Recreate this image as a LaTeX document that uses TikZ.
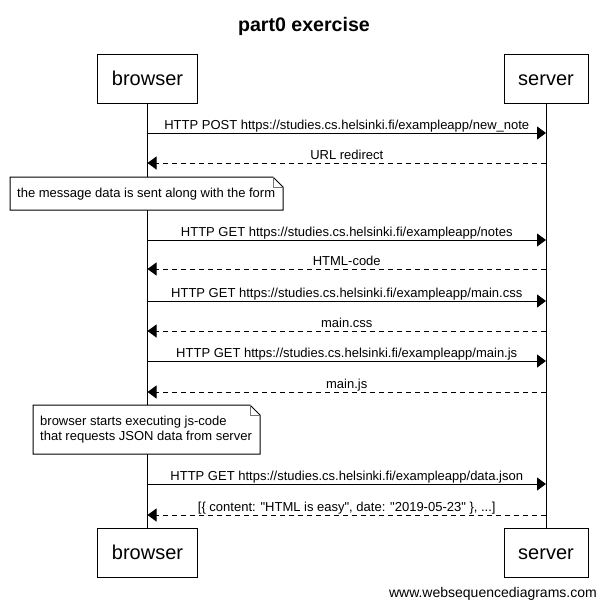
\documentclass[tikz,border=0pt]{standalone}
\usepackage{fontspec}
\setmainfont{Liberation Sans}[Ligatures=TeXOff]
\usetikzlibrary{arrows.meta,calc}
\begin{document}
\begin{tikzpicture}[x=1pt,y=-1pt,
  actor/.style={draw,line width=1pt,fill=white,minimum height=49pt,inner sep=0pt,text height=14.3pt,text depth=0pt,font=\fontsize{20}{24}\selectfont},
  life/.style={line width=1pt},
  req/.style={line width=1pt,-{Triangle[length=9pt,width=13pt]}},
  resp/.style={line width=1pt,dash pattern=on 5.5pt off 3.5pt,-{Triangle[length=9pt,width=13pt]}},
  lbl/.style={anchor=base,inner sep=0pt,font=\fontsize{13}{15}\selectfont},
  notebox/.style={draw,line width=1pt,fill=white},
  fold/.style={draw=black!55,line width=0.7pt},
  notetext/.style={anchor=west,inner sep=0pt,align=left,font=\fontsize{13}{15}\selectfont},
  frame/.style={inner sep=0pt,outer sep=0pt,minimum width=#1},
]
\useasboundingbox (0,0) rectangle (605,611);
\fill[white] (0,0) rectangle (605,611);

% title
\node[anchor=base,inner sep=0pt,font=\fontsize{19.6}{23}\bfseries] (title) at (304,31) {part0 exercise};

% actors
\node[actor,minimum width=100pt] (bt) at (147.5,78.5) {browser};
\node[actor,minimum width=84pt] (st) at (546,78.5) {server};
\node[actor,minimum width=100pt] (bb) at (147.5,552.5) {browser};
\node[actor,minimum width=84pt] (sb) at (546,552.5) {server};

% lifelines
\draw[life] (bt.south) -- (bb.north);
\draw[life] (st.south) -- (sb.north);

% messages
\draw[req] (bt |- 0,133) -- (st |- 0,133);
\node[lbl] (m1) at (346.75,129.5) {HTTP POST https://studies.cs.helsinki.fi/exampleapp/new\_note};
\draw[resp] (st |- 0,163) -- (bt |- 0,163);
\node[lbl] (m2) at (346.75,159.5) {URL redirect};

% note 1
\node[frame=273pt,minimum height=33pt,anchor=north west] (n1) at (10,177) {};
\path[notebox] (n1.north west) -- ($(n1.north east)+(-10,0)$) -- ($(n1.north east)+(0,10)$) -- (n1.south east) -- (n1.south west) -- cycle;
\draw[fold] ($(n1.north east)+(-10,0)$) -- ($(n1.north east)+(-10,10)$) -- ($(n1.north east)+(0,10)$);
\node[notetext] (n1t) at (17,194) {the message data is sent along with the form};

\draw[req] (bt |- 0,240) -- (st |- 0,240);
\node[lbl] (m3) at (346.75,236.5) {HTTP GET https://studies.cs.helsinki.fi/exampleapp/notes};
\draw[resp] (st |- 0,269) -- (bt |- 0,269);
\node[lbl] (m4) at (346.75,265.5) {HTML-code};

\draw[req] (bt |- 0,301) -- (st |- 0,301);
\node[lbl] (m5) at (346.75,297.5) {HTTP GET https://studies.cs.helsinki.fi/exampleapp/main.css};
\draw[resp] (st |- 0,331) -- (bt |- 0,331);
\node[lbl] (m6) at (346.75,327.5) {main.css};

\draw[req] (bt |- 0,361) -- (st |- 0,361);
\node[lbl] (m7) at (346.75,357.5) {HTTP GET https://studies.cs.helsinki.fi/exampleapp/main.js};
\draw[resp] (st |- 0,392) -- (bt |- 0,392);
\node[lbl] (m8) at (346.75,388.5) {main.js};

% note 2
\node[frame=227pt,minimum height=49pt,anchor=north west] (n2) at (33,405) {};
\path[notebox] (n2.north west) -- ($(n2.north east)+(-10,0)$) -- ($(n2.north east)+(0,10)$) -- (n2.south east) -- (n2.south west) -- cycle;
\draw[fold] ($(n2.north east)+(-10,0)$) -- ($(n2.north east)+(-10,10)$) -- ($(n2.north east)+(0,10)$);
\node[notetext] (n2t) at (40,430) {browser starts executing js-code\\that requests JSON data from server};

\draw[req] (bt |- 0,484) -- (st |- 0,484);
\node[lbl] (m9) at (346.75,480.5) {HTTP GET https://studies.cs.helsinki.fi/exampleapp/data.json};
\draw[resp] (st |- 0,515) -- (bt |- 0,515);
\node[lbl] (m10) at (346.75,511.5) {[\{ content: "HTML is easy", date: "2019-05-23" \}, ...]};

% footer
\node[anchor=base east,inner sep=0pt,font=\fontsize{14}{16}\selectfont] (foot) at (597,597) {www.websequencediagrams.com};
\end{tikzpicture}
\end{document}
